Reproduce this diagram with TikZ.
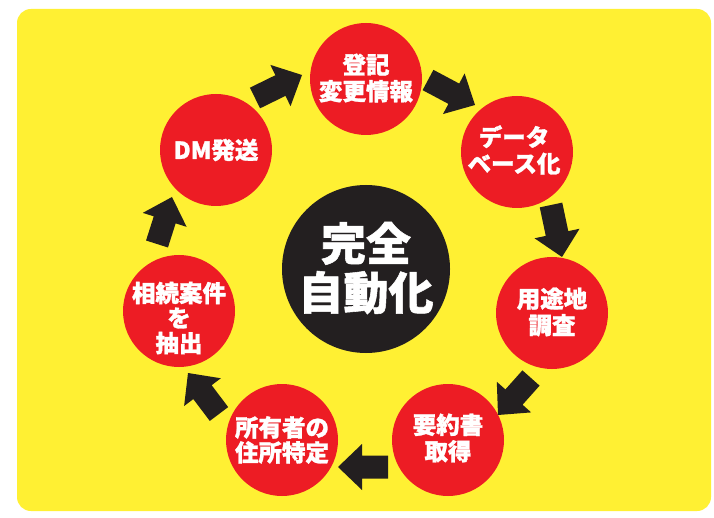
\documentclass[tikz,border=0pt]{standalone}
\usepackage{fontspec}
\newfontfamily\jp{Noto Sans CJK JP}[BoldFeatures={FakeBold=1.2}]
\usetikzlibrary{calc}
\definecolor{bgyellow}{HTML}{FFF033}
\definecolor{cred}{HTML}{ED1C24}
\definecolor{ink}{HTML}{231F20}
\newcommand\blkarrow[3]{%
  \coordinate (#3b) at ($(#2)!24pt!(#1)$);
  \fill[ink] ($(#1)!11.5pt!90:(#2)$) -- ($(#3b)!11.5pt!90:(#2)$) -- ($(#3b)!23pt!90:(#2)$) -- (#2)
    -- ($(#3b)!23pt!-90:(#2)$) -- ($(#3b)!11.5pt!-90:(#2)$) -- ($(#1)!11.5pt!-90:(#2)$) -- cycle;}
\tikzset{
  step circle/.style={circle, fill=cred, minimum size=112pt, inner sep=0pt},
  steptxt/.style={text=white, align=center, font=\jp\bfseries\fontsize{23.5pt}{26.5pt}\selectfont},
  steptxtb/.style={text=white, align=center, font=\jp\bfseries\fontsize{23.5pt}{25pt}\selectfont},
  hub/.style={circle, fill=ink, minimum size=168pt, inner sep=0pt},
  hubtxt/.style={text=white, align=center, font=\jp\bfseries\fontsize{45pt}{49pt}\selectfont},
}
\begin{document}
\begin{tikzpicture}[x=1pt,y=-1pt]
\useasboundingbox (0,0) rectangle (714,518);
\fill[white] (0,0) rectangle (714,518);
\fill[bgyellow, rounded corners=14pt] (17,9) rectangle (711,511);
% circles
\node[step circle] (c1) at (366,79) {};
\node[step circle] (c2) at (517,152) {};
\node[step circle] (c3) at (552,313) {};
\node[step circle] (c4) at (448,440) {};
\node[step circle] (c5) at (282,440) {};
\node[step circle] (c6) at (179,311) {};
\node[step circle] (c7) at (216,150) {};
\node[hub] (hub) at (366,269) {};
% texts
\node[steptxt] (t1) at (366,78) {登記\\変更情報};
\node[steptxt] (t2) at (514,150) {データ\\ベース化};
\node[steptxt] (t3) at (552,312) {用途地\\調査};
\node[steptxt] (t4) at (448,438) {要約書\\取得};
\node[steptxtb] (t5) at (282,440) {所有者の\\住所特定};
\node[steptxtb] (t6) at (179,318) {相続案件\\を\\抽出};
\node[steptxt] (t7) at (216,150) {DM発送};
\node[hubtxt] (th) at (366,268) {完全\\自動化};
% arrows
\coordinate (a1s) at (255,98);  \coordinate (a1e) at (302,75);
\coordinate (a2s) at (428,80);  \coordinate (a2e) at (475,105);
\coordinate (a3s) at (551,205); \coordinate (a3e) at (562,257);
\coordinate (a4s) at (531,378); \coordinate (a4e) at (498,415);
\coordinate (a5s) at (388,467); \coordinate (a5e) at (338,467);
\coordinate (a6s) at (219,414); \coordinate (a6e) at (188,373);
\coordinate (a7s) at (157,244); \coordinate (a7e) at (172,197);
\blkarrow{a1s}{a1e}{a1}
\blkarrow{a2s}{a2e}{a2}
\blkarrow{a3s}{a3e}{a3}
\blkarrow{a4s}{a4e}{a4}
\blkarrow{a5s}{a5e}{a5}
\blkarrow{a6s}{a6e}{a6}
\blkarrow{a7s}{a7e}{a7}
\end{tikzpicture}
\end{document}
